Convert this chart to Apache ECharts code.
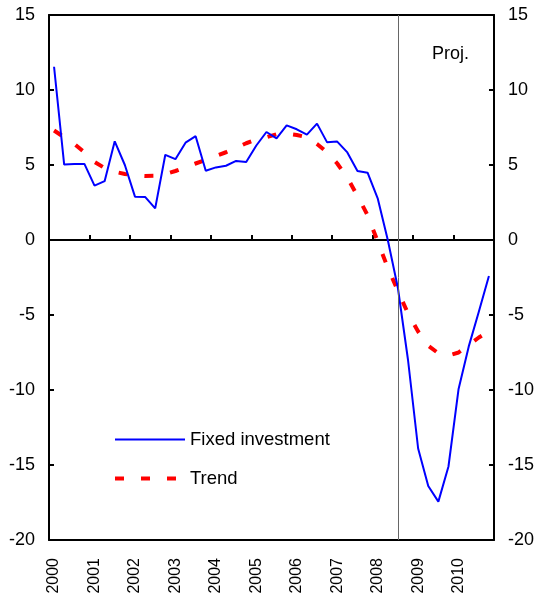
<!DOCTYPE html>
<html>
<head>
<meta charset="utf-8">
<script src="https://cdn.jsdelivr.net/npm/echarts@6/dist/echarts.min.js"></script>
<style>
  html, body { margin: 0; padding: 0; background: #fff; }
  #chart { width: 537px; height: 601px; }
</style>
</head>
<body>
<div id="chart"></div>
<script>
// quarterly categories 2000Q1 .. 2010Q4
const years = ["2000", "2001", "2002", "2003", "2004", "2005", "2006", "2007", "2008", "2009", "2010"];
const quarters = [];
years.forEach(function (y) {
  for (let q = 1; q <= 4; q++) quarters.push(y + "Q" + q);
});

const fixedInvestment = [
  11.55, 5.03, 5.07, 5.07, 3.62, 3.92, 6.58, 5.0, 2.89, 2.87, 2.11,
  5.68, 5.39, 6.49, 6.92, 4.62, 4.84, 4.95, 5.27, 5.2, 6.3, 7.2,
  6.78, 7.64, 7.38, 7.02, 7.76, 6.51, 6.56, 5.84, 4.6, 4.49, 2.78,
  0.0, -3.2, -8.0, -13.9, -16.4, -17.44, -15.1, -9.93, -7.11, -4.78, -2.4
];

const trend = [
  7.3, 6.85, 6.4, 5.85, 5.2, 4.8, 4.55, 4.4, 4.3, 4.27, 4.28,
  4.4, 4.6, 4.85, 5.1, 5.35, 5.6, 5.85, 6.15, 6.45, 6.7, 6.85,
  7.05, 7.1, 7.0, 6.85, 6.4, 5.85, 5.1, 4.15, 2.95, 1.65, -0.1,
  -1.85, -3.4, -4.9, -6.1, -7.05, -7.55, -7.7, -7.5, -7.0, -6.5, -6.1
];

const projStart = "2008Q3"; // start of projections

const font = "Liberation Sans, Arial, sans-serif";

let myChart = echarts.init(document.getElementById("chart"), null, { renderer: "canvas" });

const yAxisBase = {
  type: "value",
  min: -20,
  max: 15,
  interval: 5,
  splitLine: { show: false },
  axisLine: { show: true, lineStyle: { color: "#000", width: 2 } },
  axisTick: { show: true, inside: true, length: 5, lineStyle: { color: "#000", width: 2 } },
  axisLabel: { color: "#000", fontSize: 18, fontFamily: font, margin: 14 }
};

myChart.setOption({
  animation: false,
  backgroundColor: "#fff",
  grid: { left: 49, right: 43, top: 15, bottom: 61, containLabel: false },
  legend: {
    orient: "vertical",
    left: 113,
    top: 430,
    padding: 0,
    itemWidth: 70,
    itemHeight: 14,
    itemGap: 20,
    itemStyle: { opacity: 0 }, // line only, no marker
    textStyle: { color: "#000", fontSize: 18.5, fontFamily: font },
    data: [
      { name: "Fixed investment", lineStyle: { width: 2 } },
      { name: "Trend", lineStyle: { width: 4 } }
    ]
  },
  xAxis: [
    {
      // bottom frame with year labels
      type: "category",
      data: quarters,
      position: "bottom",
      boundaryGap: true,
      axisLine: { show: true, onZero: false, lineStyle: { color: "#000", width: 2 } },
      axisTick: { show: false },
      axisLabel: {
        interval: 3,
        rotate: 90,
        margin: 18,
        color: "#000",
        fontSize: 16,
        fontFamily: font,
        formatter: function (v) { return v.slice(0, 4); }
      },
      splitLine: { show: false }
    },
    {
      // zero line with year ticks
      type: "category",
      data: quarters,
      position: "bottom",
      boundaryGap: true,
      axisLine: { show: true, onZero: true, onZeroAxisIndex: 0, lineStyle: { color: "#000", width: 2 } },
      axisTick: { show: true, inside: true, interval: 3, length: 5, lineStyle: { color: "#000", width: 2 } },
      axisLabel: { show: false },
      splitLine: { show: false }
    },
    {
      // top frame
      type: "category",
      data: quarters,
      position: "top",
      axisLine: { show: true, onZero: false, lineStyle: { color: "#000", width: 2 } },
      axisTick: { show: false },
      axisLabel: { show: false }
    }
  ],
  yAxis: [
    Object.assign({}, yAxisBase, { position: "left" }),
    Object.assign({}, yAxisBase, { position: "right" })
  ],
  graphic: [
    {
      type: "text",
      left: 432,
      top: 45,
      style: { text: "Proj.", fill: "#000", fontSize: 18, fontFamily: font }
    }
  ],
  series: [
    {
      name: "Fixed investment",
      type: "line",
      data: fixedInvestment,
      symbol: "none",
      lineStyle: { color: "#0000ff", width: 2 },
      itemStyle: { color: "#0000ff" },
      z: 3,
      markLine: {
        silent: true,
        symbol: "none",
        label: { show: false },
        lineStyle: { color: "#666", width: 1, type: "solid" },
        data: [{ xAxis: projStart }]
      }
    },
    {
      name: "Trend",
      type: "line",
      data: trend,
      symbol: "none",
      lineStyle: { color: "#ff0000", width: 4, type: [9, 17] },
      itemStyle: { color: "#ff0000" },
      z: 2
    }
  ]
});

window.onresize = myChart.resize;
</script>
</body>
</html>
